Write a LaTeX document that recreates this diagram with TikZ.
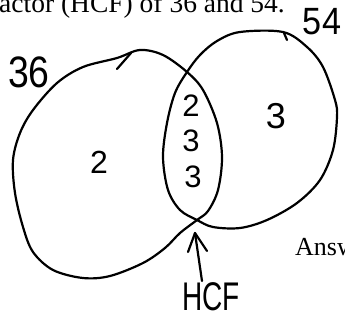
\documentclass[tikz,border=0pt]{standalone}
\usepackage{fontspec}
\setmainfont{Liberation Serif}
\newfontfamily\handfont{Liberation Sans}
\tikzset{
  pen/.style={line width=2.2pt, line cap=round, line join=round},
  hand/.style={inner sep=0pt, font=\handfont\fontsize{#1}{#1}\selectfont},
  printed/.style={inner sep=0pt, anchor=base west, font=\fontsize{27.5}{30}\selectfont},
}
\begin{document}
\begin{tikzpicture}[x=1pt,y=-1pt]
\useasboundingbox (0,0) rectangle (345,321);
\clip (0,0) rectangle (345,321);
\fill[white] (0,0) rectangle (345,321);

% printed text (cut at the edges)
\node[printed] (title) at (-1,13) {actor (HCF) of 36 and 54.};
\node[printed, font=\fontsize{26}{28}\selectfont] (answ) at (295,255) {Answ};

% left set (36)
\draw[pen] plot[smooth cycle, tension=0.55] coordinates {
 (187,72) (203,90) (217,123) (222,157) (218,190) (208,211) (197,220)
 (180,233) (165,248) (143,263) (110,276) (83,278) (53,270) (33,252)
 (23,227) (15,193) (13,160) (20,133) (33,110) (57,83) (83,67)
 (117,58) (140,50) (163,55)};
\draw[pen] (117,69) -- (131,53);

% right set (54)
\draw[pen] plot[smooth cycle, tension=0.55] coordinates {
 (187,72) (200,55) (217,41) (240,32) (283,32) (307,47) (323,67)
 (335,100) (337,117) (333,150) (320,180) (297,203) (267,220)
 (240,228) (213,227) (197,220) (180,210) (168,190) (163,157)
 (167,123) (175,93)};
\draw[pen] (284,33) -- (287,40);

% set labels
\node[hand=44, xscale=0.85] (l36) at (29,72) {36};
\node[hand=38, xscale=0.9] (l54) at (322,22) {54};

% region contents
\node[hand=32] (a2) at (99,162) {2};
\node[hand=31] (b2) at (191,106) {2};
\node[hand=31] (b3) at (191,141) {3};
\node[hand=31] (b3b) at (193,177) {3};
\node[hand=36] (c3) at (276,116) {3};

% HCF arrow
\node[hand=40, xscale=0.7] (hcf) at (211,297) {HCF};
\coordinate (tip) at (195,233);
\coordinate (tail) at (202,281);
\coordinate (barbl) at (188,252);
\coordinate (barbr) at (207,251);
\draw[pen] (tail) -- (tip);
\draw[pen] (barbl) -- (tip) -- (barbr);
\end{tikzpicture}
\end{document}
